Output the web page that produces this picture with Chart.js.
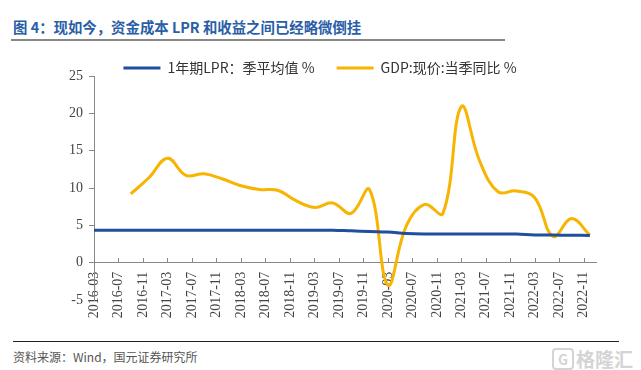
<!DOCTYPE html>
<html>
<head>
<meta charset="utf-8">
<script src="https://cdn.jsdelivr.net/npm/chart.js@4/dist/chart.umd.min.js"></script>
<style>
  html, body { margin: 0; padding: 0; background: #fff; }
  body { width: 641px; height: 370px; position: relative; overflow: hidden; font-family: "Noto Sans CJK SC", sans-serif; }
  #title { position: absolute; left: 13px; top: 16px; font-size: 14.4px; font-weight: bold; color: #2a5ea6; white-space: nowrap; }
  #titleRule { position: absolute; left: 11px; top: 39px; width: 494px; height: 2px; background: #888; }
  #box { position: absolute; left: 0; top: 37px; width: 641px; height: 303px; }
  #footRule { position: absolute; left: 13px; top: 341px; width: 606px; height: 1px; background: #222; }
  #source { position: absolute; left: 13px; top: 348px; font-size: 12px; color: #555; white-space: nowrap; }
  #mark { position: absolute; right: 8px; top: 345px; font-size: 19px; font-weight: bold; color: #d4d4d4; white-space: nowrap; }
  #mark span { display: inline-block; border: 2px solid #d4d4d4; border-radius: 4px; width: 18px; height: 18px; line-height: 18px; text-align: center; font-size: 14px; margin-right: 2px; vertical-align: 2px; }
</style>
</head>
<body>
<div id="title">图 4：现如今，资金成本 LPR 和收益之间已经略微倒挂</div>
<div id="titleRule"></div>
<div id="box"><canvas id="lprGdpChart"></canvas></div>
<div id="footRule"></div>
<div id="source">资料来源：Wind，国元证券研究所</div>
<div id="mark"><span>G</span>格隆汇</div>
<script>
// 季度（月份）
const quarters = [
  '2016-03', '2016-06', '2016-09', '2016-12',
  '2017-03', '2017-06', '2017-09', '2017-12',
  '2018-03', '2018-06', '2018-09', '2018-12',
  '2019-03', '2019-06', '2019-09', '2019-12',
  '2020-03', '2020-06', '2020-09', '2020-12',
  '2021-03', '2021-06', '2021-09', '2021-12',
  '2022-03', '2022-06', '2022-09', '2022-12'
];

// 1年期LPR：季平均值 %
const lprValues = [
  4.35, 4.35, 4.35, 4.35,
  4.35, 4.35, 4.35, 4.35,
  4.35, 4.35, 4.35, 4.35,
  4.35, 4.35, 4.26, 4.17,
  4.10, 3.92, 3.85, 3.85,
  3.85, 3.85, 3.85, 3.83,
  3.70, 3.70, 3.67, 3.65
];

// GDP:现价:当季同比 %
const gdpValues = [
  null, null, 9.2, 11.4,
  14.0, 11.7, 11.9, 11.2,
  10.3, 9.8, 9.7, 8.3,
  7.4, 8.0, 6.6, 9.8,
  -3.0, 4.9, 7.8, 6.6,
  20.9, 13.6, 9.5, 9.6,
  8.7, 3.5, 5.9, 3.7
];

const yTicks = [-5, 0, 5, 10, 15, 20, 25];

// 月份序号（2016-03 为 0）
function monthIndex(s) {
  const [yy, mm] = s.split('-').map(Number);
  return (yy - 2016) * 12 + (mm - 3);
}
function monthLabel(i) {
  const m = 2 + i;
  const yy = 2016 + Math.floor(m / 12);
  const mm = (m % 12) + 1;
  return yy + '-' + String(mm).padStart(2, '0');
}
function toPoints(values) {
  return quarters.map((q, i) => ({ x: monthIndex(q), y: values[i] }));
}

// x 轴刻度线向上画
const xTickMarks = {
  id: 'xTickMarks',
  beforeDatasetsDraw(chart) {
    const { ctx, scales: { x, y } } = chart;
    const y0 = Math.round(y.getPixelForValue(0));
    ctx.save();
    ctx.strokeStyle = '#888';
    ctx.lineWidth = 1;
    x.ticks.forEach(t => {
      const px = Math.round(x.getPixelForValue(t.value)) + 0.5;
      ctx.beginPath();
      ctx.moveTo(px, y0);
      ctx.lineTo(px, y0 - 5);
      ctx.stroke();
    });
    ctx.restore();
  }
};

// 图例：高度压小，整体右移一点
const tightLegend = {
  id: 'tightLegend',
  beforeLayout(chart) {
    const lg = chart.legend;
    if (!lg || lg._tight) return;
    const fit = lg.fit;
    lg.fit = function () {
      fit.call(this);
      this.height -= 9;
    };
    lg._tight = true;
  },
  afterLayout(chart) {
    const lg = chart.legend;
    if (!lg) return;
    lg.left += 22;
    lg.right += 22;
  }
};

const ctx = document.getElementById('lprGdpChart').getContext('2d');

new Chart(ctx, {
  type: 'line',
  data: {
    datasets: [{
      label: '1年期LPR：季平均值 %',
      data: toPoints(lprValues),
      borderColor: '#1f4f9e',
      backgroundColor: '#1f4f9e',
      borderWidth: 3,
      pointRadius: 0,
      tension: 0.4
    }, {
      label: 'GDP:现价:当季同比 %',
      data: toPoints(gdpValues),
      borderColor: '#f7b400',
      backgroundColor: '#f7b400',
      borderWidth: 3,
      pointRadius: 0,
      tension: 0.4,
      spanGaps: false
    }]
  },
  options: {
    responsive: true,
    maintainAspectRatio: false,
    animation: false,
    layout: { padding: { top: 2, right: 45, bottom: 40, left: 0 } },
    plugins: {
      tooltip: { enabled: false },
      legend: {
        position: 'top',
        labels: {
          usePointStyle: true,
          pointStyle: 'line',
          pointStyleWidth: 37,
          padding: 22,
          color: '#333',
          font: { family: '"Noto Sans CJK SC", sans-serif', size: 14 }
        }
      }
    },
    scales: {
      x: {
        type: 'linear',
        position: { y: 0 },
        min: 0,
        max: 82,
        grid: { display: true, drawOnChartArea: false, drawTicks: false },
        border: { display: true, color: '#888', width: 1 },
        ticks: {
          stepSize: 4,
          includeBounds: false,
          autoSkip: false,
          minRotation: 90,
          maxRotation: 90,
          padding: 9,
          color: '#444',
          font: { family: '"Liberation Serif", serif', size: 14 },
          callback: v => monthLabel(v)
        }
      },
      y: {
        min: -5,
        max: 25,
        afterFit(scale) { scale.width = 94; },
        afterBuildTicks(scale) { scale.ticks = yTicks.map(v => ({ value: v })); },
        grid: { drawOnChartArea: false, drawTicks: true, tickLength: 5, color: '#888' },
        border: { display: true, color: '#888', width: 1 },
        ticks: {
          padding: 6,
          color: '#444',
          font: { family: '"Liberation Serif", serif', size: 14 }
        }
      }
    }
  },
  plugins: [xTickMarks, tightLegend]
});
</script>
</body>
</html>
